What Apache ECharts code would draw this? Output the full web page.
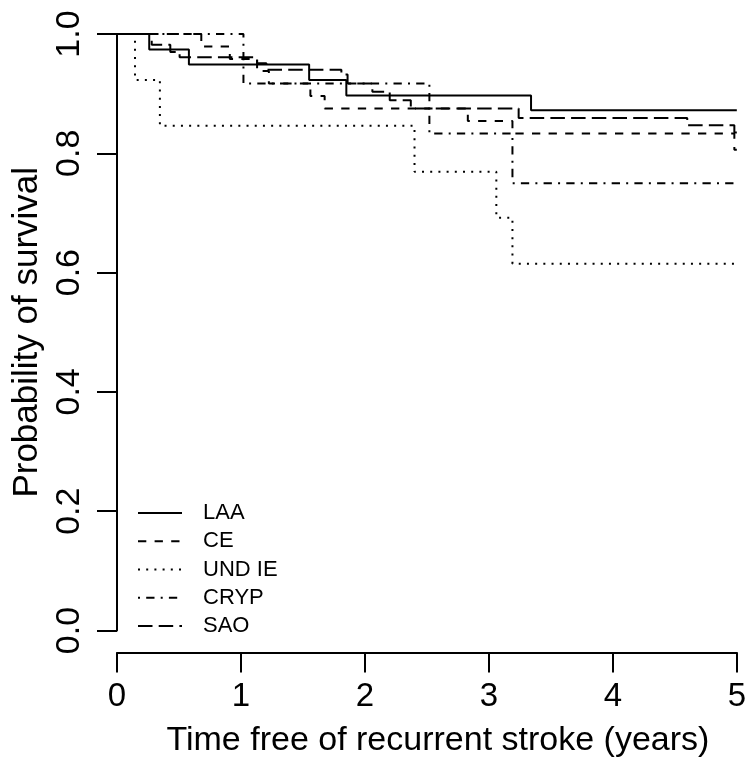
<!DOCTYPE html>
<html><head><meta charset="utf-8">
<script src="https://cdn.jsdelivr.net/npm/echarts@6/dist/echarts.min.js"></script>
<style>html,body{margin:0;padding:0;background:#fff}#c{width:749px;height:763px}</style>
</head><body><div id="c"></div>
<script>
// Kaplan-Meier step data (time in years, survival probability)
const seriesNames = ['LAA', 'CE', 'UND IE', 'CRYP', 'SAO'];
const laaTime  = [0, 0.26, 0.58, 1.55, 1.85, 3.34, 5];
const laaSurv  = [1, 0.974, 0.949, 0.923, 0.897, 0.872, 0.872];
const ceTime   = [0, 0.68, 0.91, 1.13, 1.225, 1.56, 1.675, 2.83, 3.19, 4.98, 5];
const ceSurv   = [1, 0.979, 0.958, 0.938, 0.917, 0.896, 0.875, 0.854, 0.833, 0.806, 0.806];
const undTime  = [0, 0.145, 0.346, 2.40, 3.06, 3.19, 5];
const undSurv  = [1, 0.923, 0.846, 0.769, 0.692, 0.615, 0.615];
const crypTime = [0, 1.02, 2.52, 3.19, 5];
const crypSurv = [1, 0.917, 0.833, 0.75, 0.75];
const saoTime  = [0, 0.28, 0.43, 0.505, 1.13, 1.205, 1.81, 1.86, 2.06, 2.2, 2.37, 3.24, 4.6, 4.98, 5];
const saoSurv  = [1, 0.982, 0.970, 0.961, 0.951, 0.940, 0.932, 0.917, 0.903, 0.889, 0.875, 0.859, 0.847, 0.835, 0.835];
const xTicks = [0, 1, 2, 3, 4, 5];
const yTicks = [0.0, 0.2, 0.4, 0.6, 0.8, 1.0];
const xTitle = 'Time free of recurrent stroke (years)';
const yTitle = 'Probability of survival';

const times = [laaTime, ceTime, undTime, crypTime, saoTime];
const survs = [laaSurv, ceSurv, undSurv, crypSurv, saoSurv];
const dashes = ['solid', [8.3, 8.3], [2, 6.2], [2, 6.2, 8.3, 6.2], [14.5, 6.2]];

const FONT = 'Liberation Sans, Arial, sans-serif';
const chart = echarts.init(document.getElementById('c'), null, {renderer: 'canvas'});
chart.setOption({
  animation: false,
  backgroundColor: '#fff',
  grid: {left: 117, right: 11, top: 34, bottom: 132.5, containLabel: false},
  legend: {
    data: seriesNames,
    orient: 'vertical',
    left: 137, top: 502,
    padding: 0,
    itemWidth: 44, itemHeight: 14, itemGap: 6.25,
    itemStyle: {opacity: 0},
    textStyle: {fontFamily: FONT, fontSize: 22, color: '#000', lineHeight: 22, padding: [0, 0, 0, 16]},
    selectedMode: false
  },
  xAxis: {
    type: 'value', min: xTicks[0], max: xTicks[xTicks.length - 1], interval: 1,
    offset: 22,
    name: xTitle, nameLocation: 'middle', nameGap: 71,
    nameTextStyle: {fontFamily: FONT, fontSize: 34, color: '#000', padding: [0, 0, 0, 22]},
    axisLine: {show: true, onZero: false, lineStyle: {color: '#000', width: 2}},
    axisTick: {show: true, length: 20, lineStyle: {color: '#000', width: 2}},
    axisLabel: {fontFamily: FONT, fontSize: 33, color: '#000', margin: 28},
    splitLine: {show: false}
  },
  yAxis: {
    type: 'value', min: yTicks[0], max: yTicks[yTicks.length - 1], interval: 0.2,
    name: yTitle, nameLocation: 'middle', nameGap: 67, nameRotate: 90,
    nameTextStyle: {fontFamily: FONT, fontSize: 35, color: '#000'},
    axisLine: {show: true, onZero: false, lineStyle: {color: '#000', width: 2}},
    axisTick: {show: true, length: 20, lineStyle: {color: '#000', width: 2}},
    axisLabel: {fontFamily: FONT, fontSize: 34, color: '#000', margin: 30, rotate: 90,
      formatter: v => v.toFixed(1)},
    splitLine: {show: false}
  },
  series: seriesNames.map((n, k) => ({
    name: n, type: 'line', step: 'end', symbol: 'none', showSymbol: false,
    data: times[k].map((t, i) => [t, survs[k][i]]),
    lineStyle: {color: '#000', width: 2, type: dashes[k]},
    itemStyle: {color: '#000'},
    emphasis: {disabled: true}
  }))
});
</script></body></html>
